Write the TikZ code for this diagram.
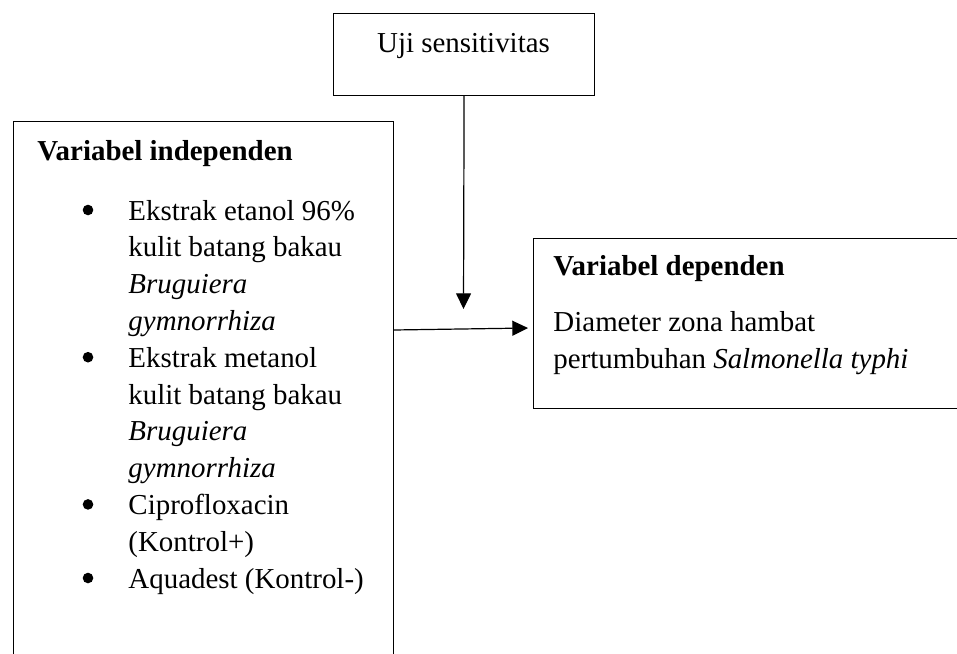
\documentclass[tikz,border=0pt]{standalone}
\usepackage{fontspec}
\setmainfont{Liberation Serif}
\usetikzlibrary{arrows.meta}
\begin{document}
\begin{tikzpicture}[x=0.415pt,y=-0.415pt,
  box/.style={draw,line width=0.5pt,inner sep=0pt,anchor=north west},
  txt/.style={inner sep=0pt,anchor=base west,font=\fontsize{12}{14}\selectfont},
  bul/.style={circle,fill,inner sep=0pt,minimum size=4.4pt},
  arr/.style={line width=0.5pt,-{Triangle[length=6.5pt,width=6.2pt]}}]
\useasboundingbox (0,0) rectangle (957,653);
\clip (0,0) rectangle (957,653);
% boxes
\node[box,minimum width=108.3pt,minimum height=34pt] (top) at (333,13) {};
\node[box,minimum width=157.7pt,minimum height=240pt] (lb) at (13,121) {};
\node[box,minimum width=200pt,minimum height=70.6pt] (rb) at (533,238) {};
% top text
\node[txt,anchor=base] (uji) at (463.5,52) {Uji sensitivitas};
% left box text
\node[txt] (vi) at (37,160) {\bfseries Variabel independen};
\foreach \t [count=\i] in {Ekstrak etanol 96\%, kulit batang bakau, \textit{Bruguiera}, \textit{gymnorrhiza}, Ekstrak metanol, kulit batang bakau, \textit{Bruguiera}, \textit{gymnorrhiza}, Ciprofloxacin, (Kontrol+), Aquadest (Kontrol-)}
  \node[txt] (l\i) at (128,{220+36.8*(\i-1)}) {\t};
\foreach \i in {1,5,9,11}
  \node[bul] (b\i) at (88,{210+36.8*(\i-1)}) {};
% right box text
\node[txt] (vd) at (553,275) {\bfseries Variabel dependen};
\node[txt] (d1) at (553,331) {Diameter zona hambat};
\node[txt] (d2) at (553,368) {pertumbuhan \textit{Salmonella typhi}};
% arrows
\coordinate (vend) at (463.5,309);
\draw[arr] (top.south) -- (vend);
\coordinate (hs) at (393,330);
\coordinate (he) at (528,328);
\draw[arr] (hs) -- (he);
\end{tikzpicture}
\end{document}
